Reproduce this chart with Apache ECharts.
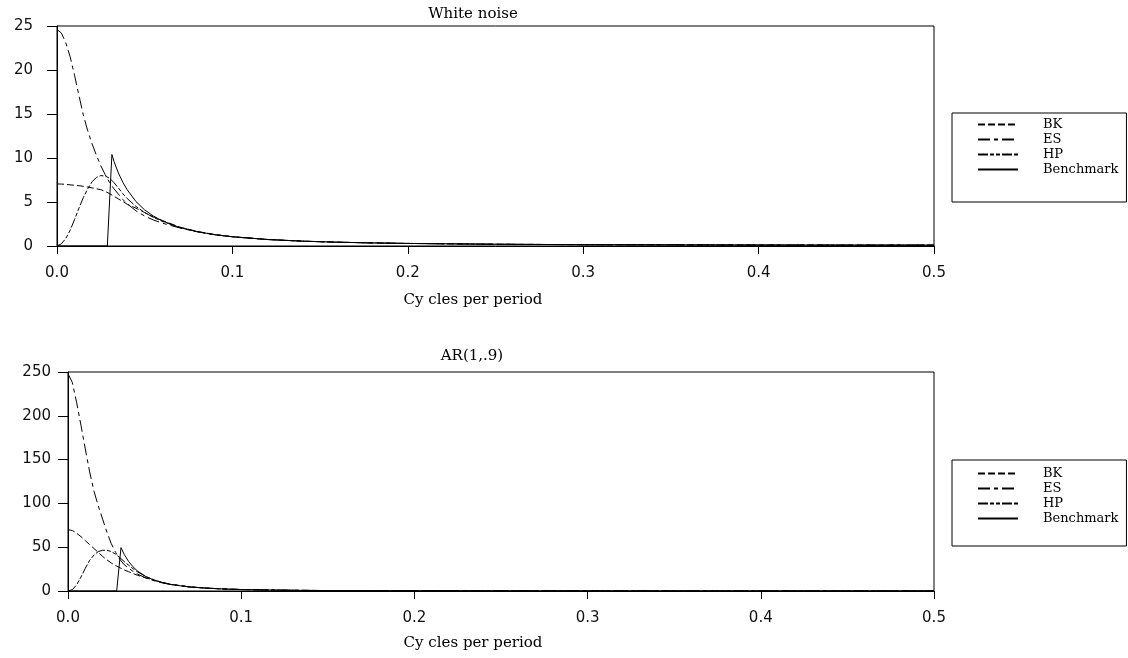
<!DOCTYPE html>
<html><head><meta charset="utf-8">
<script src="https://cdn.jsdelivr.net/npm/echarts@6/dist/echarts.min.js"></script>
<style>html,body{margin:0;padding:0;background:#fff}#c{width:1128px;height:658px}</style>
</head><body><div id="c"></div>
<script>
// Frequencies (cycles per period)
const freq = [0, .0025, .005, .0075, .01, .0125, .015, .0175, .02, .0225, .025, .0275, .03, .0325, .035, .0375, .04, .045, .05, .055, .06, .07, .08, .09, .1, .12, .14, .16, .18, .2, .25, .3, .35, .4, .45, .5];

// White noise panel
const wnBK = [7.05, 7.04, 7.0, 6.95, 6.9, 6.85, 6.78, 6.7, 6.6, 6.5, 6.4, 6.2, 5.95, 5.65, 5.35, 5.05, 4.75, 4.3, 3.8, 3.3, 2.9, 2.15, 1.65, 1.3, 1.05, 0.74, 0.55, 0.43, 0.35, 0.29, 0.2, 0.15, 0.13, 0.11, 0.1, 0.1];
const wnES = [24.6, 24.2, 23.1, 21.5, 19.4, 17.1, 14.9, 13.1, 11.6, 10.3, 9.1, 8.1, 7.2, 6.5, 5.9, 5.3, 4.8, 4.0, 3.4, 2.95, 2.6, 2.05, 1.62, 1.28, 1.05, 0.74, 0.55, 0.43, 0.35, 0.29, 0.2, 0.15, 0.13, 0.11, 0.1, 0.1];
const wnHP = [0, 0.25, 0.85, 1.8, 3.0, 4.3, 5.5, 6.5, 7.3, 7.8, 8.0, 7.95, 7.7, 7.2, 6.6, 5.95, 5.4, 4.5, 3.8, 3.25, 2.8, 2.1, 1.63, 1.28, 1.05, 0.74, 0.55, 0.43, 0.35, 0.29, 0.2, 0.15, 0.13, 0.11, 0.1, 0.1];
const benchFreqWN = [0, 0.0287, 0.0313, 0.0325, 0.035, 0.0375, 0.04, 0.045, 0.05, 0.055, 0.06, 0.07, 0.08, 0.09, 0.1, 0.12, 0.14, 0.16, 0.18, 0.2, 0.25, 0.3, 0.35, 0.4, 0.45, 0.5];
const wnBench = [0, 0, 10.4, 9.6, 8.3, 7.25, 6.4, 5.05, 4.1, 3.4, 2.85, 2.1, 1.62, 1.28, 1.05, 0.74, 0.55, 0.43, 0.35, 0.29, 0.2, 0.15, 0.13, 0.11, 0.1, 0.1];

// AR(1,.9) panel
const arBK = [70, 69, 66, 62, 57.5, 53, 48.5, 44, 39.5, 35.5, 32, 29, 26.5, 24, 22, 20, 18, 15, 12, 9.5, 7.5, 4.8, 3.3, 2.3, 1.7, 1.0, 0.64, 0.43, 0.31, 0.23, 0.12, 0.08, 0.06, 0.05, 0.04, 0.04];
const arES = [248, 238, 215, 189, 162, 136, 114, 97, 82, 67, 54, 44, 36, 30, 26, 22.5, 19.5, 14.8, 11.5, 9.0, 7.2, 4.7, 3.3, 2.3, 1.7, 1.0, 0.64, 0.43, 0.31, 0.23, 0.12, 0.08, 0.06, 0.05, 0.04, 0.04];
const arHP = [0, 1.5, 7, 16, 26, 35, 41, 45, 46.5, 46.5, 45, 42, 38, 33.5, 29.5, 25.5, 22, 16.5, 12.5, 9.4, 7.3, 4.7, 3.3, 2.3, 1.7, 1.0, 0.64, 0.43, 0.31, 0.23, 0.12, 0.08, 0.06, 0.05, 0.04, 0.04];
const benchFreqAR = [0, 0.0281, 0.0306, 0.0325, 0.035, 0.0375, 0.04, 0.045, 0.05, 0.055, 0.06, 0.07, 0.08, 0.09, 0.1, 0.12, 0.14, 0.16, 0.18, 0.2, 0.25, 0.3, 0.35, 0.4, 0.45, 0.5];
const arBench = [0, 0, 49.5, 41.7, 33.7, 27.7, 23, 16.4, 12.2, 9.3, 7.2, 4.6, 3.2, 2.26, 1.67, 1.0, 0.64, 0.43, 0.31, 0.23, 0.12, 0.08, 0.06, 0.05, 0.04, 0.04];

// Axis ranges
const xRange = [0, 0.5, 0.1];
const yRangeWN = [0, 25, 5];
const yRangeAR = [0, 250, 50];
const seriesNames = ['BK', 'ES', 'HP', 'Benchmark'];
const titles = ['White noise', 'AR(1,.9)'];
const xName = 'Cy cles per period';

const zip = (xs, ys) => xs.map((x, i) => [x, ys[i]]);
const dashes = {
  BK: [7, 3],
  ES: [12, 4, 4, 4],
  HP: [10, 2, 4, 2, 4, 2],
  Benchmark: 'solid'
};
const sansLbl = { fontFamily: 'DejaVu Sans', fontSize: 15, color: '#111' };
const serif = 'DejaVu Serif';

function mkX(idx) {
  return {
    type: 'value', gridIndex: idx, min: xRange[0], max: xRange[1], interval: xRange[2],
    axisLine: { show: true, lineStyle: { color: '#000', width: 1 } },
    axisTick: { show: true, inside: false, length: 8, lineStyle: { color: '#000' } },
    axisLabel: Object.assign({ margin: 20, formatter: v => v.toFixed(1) }, sansLbl),
    splitLine: { show: false }
  };
}
function mkY(idx, r, margin) {
  return {
    type: 'value', gridIndex: idx, min: r[0], max: r[1], interval: r[2],
    axisLine: { show: true, lineStyle: { color: '#000', width: 1 } },
    axisTick: { show: true, inside: false, length: 10, lineStyle: { color: '#000' } },
    axisLabel: Object.assign({ margin: margin }, sansLbl),
    splitLine: { show: false }
  };
}
function mkSeries(idx, name, data) {
  return {
    type: 'line', name: name, xAxisIndex: idx, yAxisIndex: idx, data: data,
    symbol: 'none', showSymbol: false, smooth: false, animation: false,
    lineStyle: { color: '#000', width: 1, type: dashes[name] },
    itemStyle: { color: '#000' }
  };
}
function mkLegend(top, pad) {
  return {
    orient: 'vertical', left: 952, top: top, padding: pad,
    itemWidth: 40, itemHeight: 14, itemGap: 2,
    borderColor: '#000', borderWidth: 1, borderRadius: 0,
    backgroundColor: '#fff',
    data: seriesNames, selectedMode: false,
    itemStyle: { color: 'rgba(0,0,0,0)', borderColor: 'rgba(0,0,0,0)', borderWidth: 0 },
    textStyle: { fontFamily: serif, fontSize: 13, color: '#000', padding: [0, 0, 0, 20] }
  };
}

const chart = echarts.init(document.getElementById('c'), null, { renderer: 'canvas' });
chart.setOption({
  animation: false,
  backgroundColor: '#fff',
  grid: [
    { left: 57, right: 194, top: 26, height: 220, show: true, borderColor: '#000', borderWidth: 1, backgroundColor: 'transparent' },
    { left: 68, right: 194, top: 372, height: 219, show: true, borderColor: '#000', borderWidth: 1, backgroundColor: 'transparent' }
  ],
  xAxis: [mkX(0), mkX(1)],
  yAxis: [mkY(0, yRangeWN, 24), mkY(1, yRangeAR, 17)],
  legend: [mkLegend(113, [5, 8, 26, 25]), mkLegend(460, [7, 8, 21, 25])],
  graphic: [
    { type: 'text', x: 473, y: 14, style: { text: titles[0], font: '15px "DejaVu Serif"', fill: '#000', textAlign: 'center', textVerticalAlign: 'middle', verticalAlign: 'middle' } },
    { type: 'text', x: 472, y: 356, style: { text: titles[1], font: '15px "DejaVu Serif"', fill: '#000', textAlign: 'center', textVerticalAlign: 'middle', verticalAlign: 'middle' } },
    { type: 'text', x: 473, y: 300, style: { text: xName, font: '15px "DejaVu Serif"', fill: '#000', textAlign: 'center', textVerticalAlign: 'middle', verticalAlign: 'middle' } },
    { type: 'text', x: 473, y: 643, style: { text: xName, font: '15px "DejaVu Serif"', fill: '#000', textAlign: 'center', textVerticalAlign: 'middle', verticalAlign: 'middle' } }
  ],
  series: [
    mkSeries(0, 'BK', zip(freq, wnBK)),
    mkSeries(0, 'ES', zip(freq, wnES)),
    mkSeries(0, 'HP', zip(freq, wnHP)),
    mkSeries(0, 'Benchmark', zip(benchFreqWN, wnBench)),
    mkSeries(1, 'BK', zip(freq, arBK)),
    mkSeries(1, 'ES', zip(freq, arES)),
    mkSeries(1, 'HP', zip(freq, arHP)),
    mkSeries(1, 'Benchmark', zip(benchFreqAR, arBench))
  ]
});
</script></body></html>
